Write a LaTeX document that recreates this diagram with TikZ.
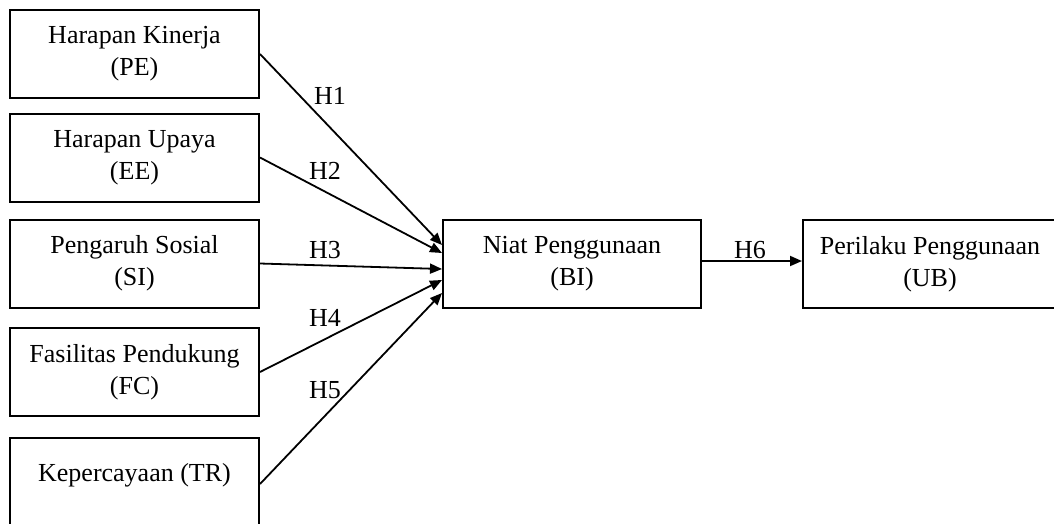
\documentclass[tikz,border=0pt]{standalone}
\usepackage{fontspec}
\setmainfont{Liberation Serif}
\usetikzlibrary{arrows.meta}
\tikzset{
  box/.style={draw, line width=2pt, inner sep=0pt, minimum width=249pt, minimum height=88pt, align=center, font=\fontsize{26}{32}\selectfont},
  lbl/.style={inner sep=0pt, font=\fontsize{26}{32}\selectfont},
  conn/.style={line width=1.8pt, -{Triangle[length=12pt, width=10pt]}}
}
\begin{document}
\begin{tikzpicture}[x=1pt, y=-1pt]
\useasboundingbox (0,0) rectangle (1054,523);
\clip (0,0) rectangle (1054,523);
\node[box] (b1) at (134.5,54) {Harapan Kinerja\\(PE)};
\node[box] (b2) at (134.5,157.5) {Harapan Upaya\\(EE)};
\node[box] (b3) at (134.5,263.5) {Pengaruh Sosial\\(SI)};
\node[box] (b4) at (134.5,372) {Fasilitas Pendukung\\(FC)};
\node[box, minimum height=120pt, anchor=north] (b5) at (134.5,437) {};
\node[lbl] (t5) at (134.5,475) {Kepercayaan (TR)};
\node[box, minimum width=258pt] (bi) at (572,264) {Niat Penggunaan\\(BI)};
\node[box, minimum width=254pt] (ub) at (930,264) {Perilaku Penggunaan\\(UB)};
\draw[conn] (b1.east) -- ([yshift=19pt]bi.west);
\draw[conn] (b2.east) -- ([yshift=11pt]bi.west);
\draw[conn] (b3.east) -- ([yshift=-5pt]bi.west);
\draw[conn] (b4.east) -- ([yshift=-16pt]bi.west);
\draw[conn] ([yshift=14pt]b5.east) -- ([yshift=-29pt]bi.west);
\draw[conn] ([yshift=3pt]bi.east) -- ([yshift=3pt]ub.west);
\node[lbl] (h1) at (330,96) {H1};
\node[lbl] (h2) at (325,171) {H2};
\node[lbl] (h3) at (325,250) {H3};
\node[lbl] (h4) at (325,318) {H4};
\node[lbl] (h5) at (325,390) {H5};
\node[lbl] (h6) at (750,250) {H6};
\end{tikzpicture}
\end{document}
